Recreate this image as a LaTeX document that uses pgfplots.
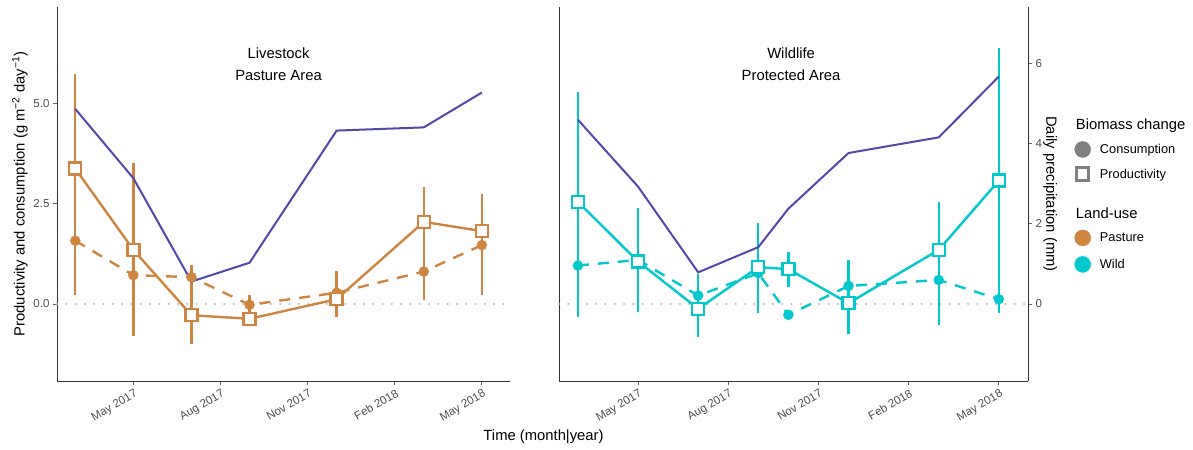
\documentclass[border=0pt]{standalone}
\usepackage{fontspec}
\setmainfont{Liberation Sans}
\usepackage{pgfplots}
\usepackage{pgfplotstable}
\pgfplotsset{compat=1.18}
\definecolor{pasture}{HTML}{CD853F}
\definecolor{wild}{HTML}{00C8CD}
\definecolor{precip}{HTML}{5048AA}
\definecolor{ticktext}{HTML}{4D4D4D}
\definecolor{leggray}{HTML}{7F7F7F}
\definecolor{zerogray}{HTML}{BEBEBE}
\newcommand\tickfont{\fontsize{11.5bp}{13bp}\selectfont}
\newcommand\titlefont{\fontsize{14.8bp}{22bp}\selectfont}
\newcommand\legfont{\fontsize{12.8bp}{15bp}\selectfont}

\pgfplotstableread{
x prod prode cons conse prec
3 3.38 2.37 1.58 1.36 4.87
5 1.35 2.16 0.72 0.80 3.14
7 -0.28 0.72 0.67 0.30 0.56
9 -0.37 0.12 -0.02 0.24 1.03
12 0.12 0.44 0.28 0.55 4.33
15 2.05 0.88 0.81 0.72 4.41
17 1.82 0.92 1.47 1.25 5.28
}\pasturedata

\pgfplotstableread{
x prod prode cons conse prec
3 2.55 2.74 0.96 1.29 4.60
5 1.06 1.25 1.10 1.30 2.93
7 -0.12 0.70 0.21 0.54 0.79
9 0.92 1.11 0.77 1.00 1.42
10 0.87 0.44 -0.27 0.10 2.38
12 0.02 0.77 0.45 0.65 3.77
15 1.35 1.19 0.60 1.12 4.16
17 3.08 3.31 0.12 0.34 5.68
}\wilddata

\pgfplotsset{
 panel/.style={
  scale only axis, clip=false,
  height=374bp,
  xmin=2.37, xmax=17.97, ymin=-1.923, ymax=7.416,
  axis x line*=bottom,
  xtick={5,8,11,14,17},
  xticklabels={May 2017,Aug 2017,Nov 2017,Feb 2018,May 2018},
  tick align=outside, major tick length=4bp,
  tick style={black!60, line width=0.8bp},
  axis line style={black!80, line width=1bp},
  x tick label style={rotate=30, anchor=north east, xshift=2bp, font=\tickfont, text=ticktext},
  y tick label style={font=\tickfont, text=ticktext},
  /pgf/number format/assume math mode=true,
  label style={font=\titlefont, text=black},
 },
 zeroline/.style={zerogray, line width=2.4bp, line cap=round, dash pattern=on 0bp off 9.3bp, forget plot},
 ebar/.style={#1, only marks, mark=none, forget plot, error bars/.cd, y dir=both, y explicit, error mark=none, error bar style={line width=2.3bp, solid, draw=#1}},
 prodline/.style={#1, line width=2.4bp, mark=none, forget plot},
 consline/.style={#1, line width=2.4bp, dash pattern=on 11bp off 9bp, mark=none, forget plot},
 conspts/.style={#1, only marks, mark=*, mark size=5bp, mark options={draw=none, fill=#1}, forget plot},
 prodpts/.style={#1, only marks, mark=square*, mark size=6bp, mark options={draw=#1, fill=white, line width=2.3bp, solid}, forget plot},
 precline/.style={precip, line width=2bp, mark=none, forget plot},
 leg/.style={legend style={draw=none, fill=none, at={(axis description cs:1.0991,#1)}, anchor=north west, font=\legfont, inner sep=0pt, row sep=10.5bp, nodes={inner sep=0pt}, /tikz/every odd column/.append style={column sep=9.2bp}}, legend cell align=left},
}

\begin{document}
\begin{tikzpicture}
\path[use as bounding box] (0,0) rectangle (1193bp,450bp);
% ---------------- left panel ----------------
\begin{axis}[panel, at={(57bp,69bp)}, anchor=south west, width=453bp,
  axis y line*=left, ytick={0,2.5,5}, yticklabels={0.0,2.5,5.0},
  ylabel={Productivity and consumption (g m\textsuperscript{−2} day\textsuperscript{−1})},
  ylabel style={at={(axis description cs:-0.0817,0.5)}, anchor=center},
  xlabel={Time (month|year)},
  xlabel style={at={(axis description cs:1.074,-0.1497)}, anchor=center}]
\addplot[zeroline] coordinates {(2.37,0) (17.97,0)};
\addplot[ebar=pasture] table[x=x, y=prod, y error=prode] {\pasturedata};
\addplot[ebar=pasture] table[x=x, y=cons, y error=conse] {\pasturedata};
\addplot[precline] table[x=x, y=prec] {\pasturedata};
\addplot[prodline=pasture] table[x=x, y=prod] {\pasturedata};
\addplot[consline=pasture] table[x=x, y=cons] {\pasturedata};
\addplot[conspts=pasture] table[x=x, y=cons] {\pasturedata};
\addplot[prodpts=pasture] table[x=x, y=prod] {\pasturedata};
\node[font=\titlefont, align=center, inner sep=0pt] at (axis cs:10,5.985) {Livestock\\Pasture Area};
\end{axis}
% ---------------- right panel ----------------
\begin{axis}[panel, at={(559bp,69bp)}, anchor=south west, width=469bp,
  axis y line*=left, ytick=\empty, leg=0.641]
\addplot[zeroline] coordinates {(2.37,0) (17.97,0)};
\addplot[ebar=wild] table[x=x, y=prod, y error=prode] {\wilddata};
\addplot[ebar=wild] table[x=x, y=cons, y error=conse] {\wilddata};
\addplot[precline] table[x=x, y=prec] {\wilddata};
\addplot[prodline=wild] table[x=x, y=prod] {\wilddata};
\addplot[consline=wild] table[x=x, y=cons] {\wilddata};
\addplot[conspts=wild] table[x=x, y=cons] {\wilddata};
\addplot[prodpts=wild] table[x=x, y=prod] {\wilddata};
\node[font=\titlefont, align=center, inner sep=0pt] at (axis cs:10.09,5.985) {Wildlife\\Protected Area};
\addlegendimage{only marks, mark=*, mark size=8bp, leggray, mark options={draw=none, fill=leggray}}
\addlegendentry{Consumption}
\addlegendimage{only marks, mark=square*, mark size=6.3bp, mark options={draw=leggray, fill=white, line width=3bp}}
\addlegendentry{Productivity}
\end{axis}
% ---------------- right panel: precipitation axis + land-use legend ----------------
\begin{axis}[panel, at={(559bp,69bp)}, anchor=south west, width=469bp,
  axis x line=none, xtick=\empty, axis y line*=right,
  ytick={0,2,4,6}, yticklabels={0,2,4,6},
  ylabel={Daily precipitation (mm)},
  ylabel style={at={(axis description cs:1.0475,0.5)}, anchor=center, rotate=180},
  leg=0.4045]
\node[anchor=base west, font=\titlefont, inner sep=0pt] at (axis description cs:1.1017,0.672) {Biomass change};
\node[anchor=base west, font=\titlefont, inner sep=0pt] at (axis description cs:1.1017,0.4345) {Land-use};
\addlegendimage{only marks, mark=*, mark size=8bp, pasture, mark options={draw=none, fill=pasture}}
\addlegendentry{Pasture}
\addlegendimage{only marks, mark=*, mark size=8bp, wild, mark options={draw=none, fill=wild}}
\addlegendentry{Wild}
\end{axis}
\end{tikzpicture}
\end{document}
